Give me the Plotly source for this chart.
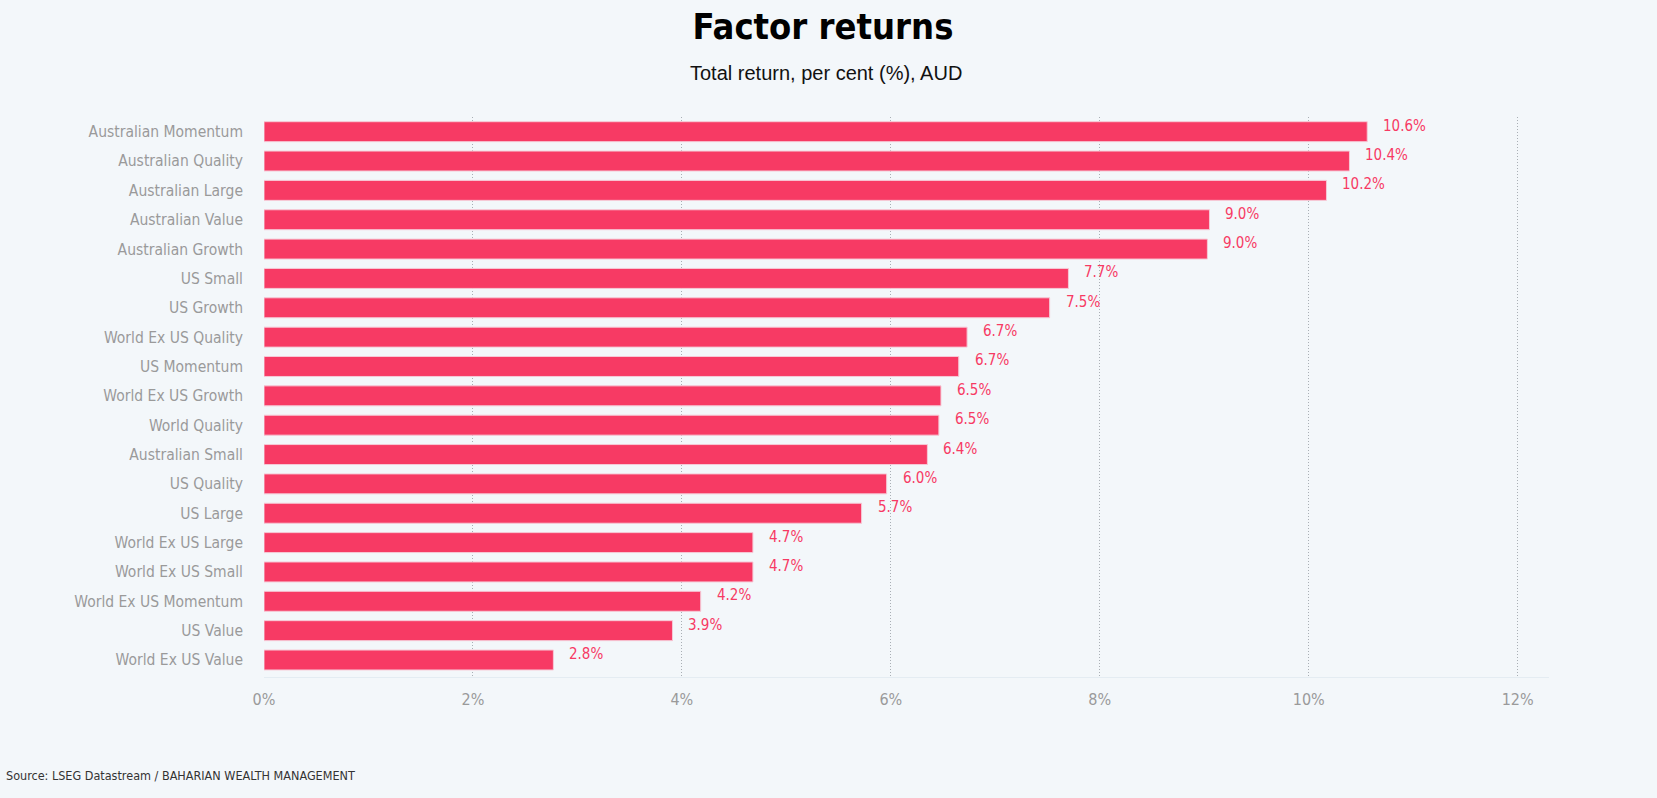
import plotly.graph_objects as go

categories = ["Australian Momentum", "Australian Quality", "Australian Large", "Australian Value",
              "Australian Growth", "US Small", "US Growth", "World Ex US Quality", "US Momentum",
              "World Ex US Growth", "World Quality", "Australian Small", "US Quality", "US Large",
              "World Ex US Large", "World Ex US Small", "World Ex US Momentum", "US Value",
              "World Ex US Value"]
values = [10.56, 10.39, 10.17, 9.05, 9.03, 7.70, 7.52, 6.73, 6.65, 6.48, 6.46, 6.35, 5.96, 5.72,
          4.68, 4.68, 4.18, 3.91, 2.77]
value_labels = ["10.6%", "10.4%", "10.2%", "9.0%", "9.0%", "7.7%", "7.5%", "6.7%", "6.7%", "6.5%",
                "6.5%", "6.4%", "6.0%", "5.7%", "4.7%", "4.7%", "4.2%", "3.9%", "2.8%"]
tick_vals = [0, 2, 4, 6, 8, 10, 12]
tick_text = ["0%", "2%", "4%", "6%", "8%", "10%", "12%"]

COND = "DejaVu Sans Condensed, Liberation Sans Narrow, sans-serif"
BAR = "#F73A64"
BG = "#F3F7FA"

fig = go.Figure()
fig.add_trace(go.Bar(
    x=values, y=categories, orientation="h",
    marker=dict(color=BAR, line=dict(color="#F6C9D6", width=1)),
    width=0.68, hoverinfo="x+y",
))

for c, v, t in zip(categories, values, value_labels):
    fig.add_annotation(x=v, y=c, text=t, showarrow=False, xanchor="left", yanchor="middle",
                       xshift=14, yshift=6,
                       font=dict(family=COND, size=15, color=BAR))

fig.add_annotation(xref="paper", yref="paper", x=0.437, y=1.0786, text="Total return, per cent (%), AUD",
                   showarrow=False, xanchor="center", yanchor="middle",
                   font=dict(family="Liberation Sans, Arial, sans-serif", size=20, color="#111111"))
fig.add_annotation(xref="paper", yref="paper", x=-0.202, y=-0.175,
                   text="Source: LSEG Datastream / BAHARIAN WEALTH MANAGEMENT",
                   showarrow=False, xanchor="left", yanchor="middle",
                   font=dict(family=COND, size=12.5, color="#333333"))

fig.update_layout(
    width=1657, height=798,
    paper_bgcolor=BG, plot_bgcolor=BG,
    margin=dict(l=264, r=108, t=117, b=121),
    showlegend=False,
    title=dict(text="<b>Factor returns</b>", x=823 / 1657, xanchor="center", xref="container",
               y=1 - 26 / 798, yanchor="middle", yref="container",
               font=dict(family=COND, size=36, color="#000000")),
    xaxis=dict(range=[0, 12.3], tickvals=tick_vals, ticktext=tick_text,
               showgrid=True, gridcolor="#A9AFB5", griddash="1px,2px", gridwidth=1,
               zeroline=False, showline=True, linecolor="#E4ECF2", linewidth=1,
               tickfont=dict(family=COND, size=16, color="#9A9A9A"), ticks="", ticklabelstandoff=8),
    yaxis=dict(autorange="reversed", showgrid=False, zeroline=False, showline=False,
               ticks="", ticklabelstandoff=20,
               tickfont=dict(family=COND, size=15.5, color="#9A9A9A")),
    bargap=0.32,
)

fig.write_html("out.html", config={"displayModeBar": False},
               post_script="document.body.style.margin='0';document.body.style.background='#F3F7FA';")
